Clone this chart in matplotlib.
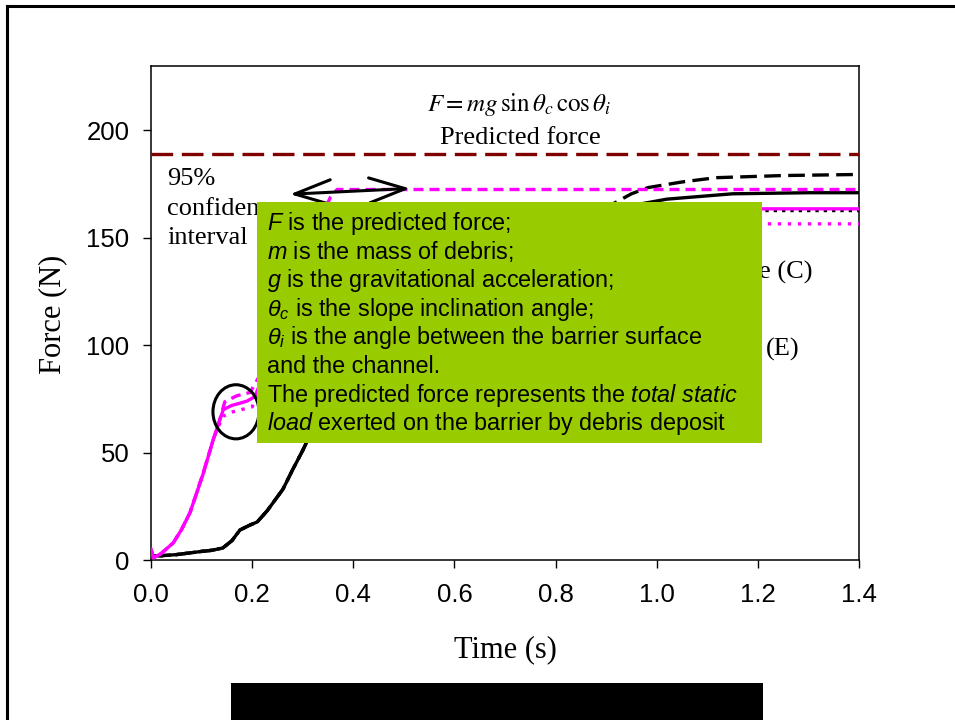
import matplotlib
matplotlib.use("Agg")
import matplotlib.pyplot as plt
from matplotlib.patches import Rectangle, Ellipse
from matplotlib.lines import Line2D

plt.rcParams['mathtext.fontset'] = 'custom'
plt.rcParams['mathtext.rm'] = 'Liberation Sans'
plt.rcParams['mathtext.it'] = 'Liberation Sans:italic'

SERIF = 'Liberation Serif'
SANS = 'Liberation Sans'

## Data (parts under the green box are estimated)
# magenta series
t_mag_solid = [0, 0.005, 0.02, 0.044, 0.06, 0.077, 0.09, 0.103, 0.113, 0.123, 0.133,
               0.143, 0.16, 0.176, 0.19, 0.205, 0.23, 0.26, 0.29, 0.32, 0.345, 0.36,
               0.38, 0.42, 0.6, 0.8, 1.0, 1.2, 1.4]
f_mag_solid = [5, 1, 3, 8, 14, 22, 31, 40, 48, 56, 63,
               70, 72, 73, 74, 76, 90, 115, 140, 155, 160, 162,
               163, 163.5, 163.5, 163.5, 163.5, 163.5, 163.5]

t_mag_dash = [0, 0.005, 0.02, 0.044, 0.06, 0.077, 0.09, 0.103, 0.113, 0.123, 0.133,
              0.146, 0.17, 0.196, 0.22, 0.25, 0.28, 0.31, 0.335, 0.345, 0.355, 0.368,
              0.45, 0.6, 0.8, 1.0, 1.2, 1.4]
f_mag_dash = [5, 1, 3, 8, 14, 22, 31, 40.5, 48, 56, 63,
              73.7, 76.5, 78, 88, 110, 135, 155, 162, 164, 169, 172.5,
              172.5, 172.5, 172.5, 172.5, 172.5, 172.5]

t_mag_dot = [0, 0.005, 0.02, 0.044, 0.06, 0.077, 0.09, 0.103, 0.113, 0.123, 0.133,
             0.143, 0.162, 0.2, 0.23, 0.26, 0.29, 0.32, 0.35, 0.4, 0.6, 0.8, 1.0, 1.2, 1.4]
f_mag_dot = [5, 1, 3, 8, 14, 22, 31, 40, 48, 56, 62,
             67, 69, 71.3, 85, 110, 135, 150, 155, 156.5, 156.5, 156.5, 156.5, 156.5, 156.5]

# black series (early rise is shared)
t_blk_rise = [0, 0.02, 0.05, 0.077, 0.1, 0.12, 0.142, 0.16, 0.176, 0.196, 0.21, 0.23,
              0.261, 0.28, 0.3, 0.308, 0.35, 0.4, 0.5, 0.6, 0.7, 0.8]
f_blk_rise = [2, 2, 2.5, 3.3, 4, 4.5, 5.6, 9, 14, 16.3, 17.7, 23,
              33, 42, 51, 55, 80, 105, 135, 150, 156, 159]

t_blk_solid = t_blk_rise + [0.9, 0.95, 1.02, 1.15, 1.3, 1.4]
f_blk_solid = f_blk_rise + [162, 165, 168, 170.5, 171, 171]

t_blk_dash = t_blk_rise + [0.9, 0.915, 0.95, 0.983, 1.05, 1.117, 1.25, 1.4]
f_blk_dash = f_blk_rise + [161, 166, 170.5, 173.4, 176, 178, 179, 179.5]

t_blk_dot = t_blk_rise + [0.9, 1.0, 1.2, 1.4]
f_blk_dot = f_blk_rise + [160, 162, 162.7, 162.7]

predicted_force = 189.0

xticks = [0.0, 0.2, 0.4, 0.6, 0.8, 1.0, 1.2, 1.4]
yticks = [0, 50, 100, 150, 200]

box_lines = [
    r"$\mathit{F}$ is the predicted force;",
    r"$\mathit{m}$ is the mass of debris;",
    r"$\mathit{g}$ is the gravitational acceleration;",
    r"$\theta_c$ is the slope inclination angle;",
    r"$\theta_i$ is the angle between the barrier surface",
    "and the channel.",
    r"The predicted force represents the $\mathit{total\ static}$",
    r"$\mathit{load}$ exerted on the barrier by debris deposit",
]

## Figure
W, H = 955, 720
fig = plt.figure(figsize=(W / 100, H / 100), dpi=100)
ax = fig.add_axes([151 / W, 1 - 560 / H, (859 - 151) / W, (560 - 66) / H])

ax.plot(t_blk_dash, f_blk_dash, color='black', lw=2.4, dashes=(5, 2.2), zorder=3)
ax.plot(t_blk_dot, f_blk_dot, color='black', lw=2.4, dashes=(1, 1.5), zorder=3)
ax.plot(t_blk_solid, f_blk_solid, color='black', lw=2.4, zorder=3)
ax.plot(t_mag_dot, f_mag_dot, color='#FF00FF', lw=2.4, dashes=(1, 2.0), zorder=3)
ax.plot(t_mag_dash, f_mag_dash, color='#FF00FF', lw=2.4, dashes=(3.0, 1.8), zorder=3)
ax.plot(t_mag_solid, f_mag_solid, color='#FF00FF', lw=2.4, zorder=3)

ax.axhline(predicted_force, color='#800000', lw=2.4, dashes=(6.5, 2.6), zorder=4)

ax.set_xlim(0, 1.4)
ax.set_ylim(0, 230)
ax.set_xticks(xticks)
ax.set_xticklabels(['%.1f' % v for v in xticks])
ax.set_yticks(yticks)
ax.tick_params(axis='both', direction='out', length=5.5, width=1, labelsize=18.5)
ax.tick_params(axis='x', pad=11)
ax.tick_params(axis='y', pad=10)
for lab in ax.get_xticklabels() + ax.get_yticklabels():
    lab.set_fontfamily(SANS)
for s in ax.spines.values():
    s.set_linewidth(1.1)

ax.set_xlabel('Time (s)', fontsize=22, family=SERIF, va='center')
ax.set_ylabel('Force (N)', fontsize=22, family=SERIF, va='center')
ax.xaxis.set_label_coords(0.5, -0.182)
ax.yaxis.set_label_coords(-0.1384, 0.497)

# annotations in data space
ax.text(0.7275, 209, r'$F = mg\,\sin\theta_c\,\cos\theta_i$', fontsize=18,
        ha='center', va='baseline', math_fontfamily='stix')
ax.text(0.73, 193.5, 'Predicted force', fontsize=19, family=SERIF,
        ha='center', va='baseline')
ax.text(0.0316, 174.8, '95%', fontsize=19, family=SERIF, va='baseline')
ax.text(0.0316, 160.8, 'confidence', fontsize=19, family=SERIF, va='baseline')
ax.text(0.0316, 146.9, 'interval', fontsize=19, family=SERIF, va='baseline')
ax.annotate('', xy=(0.512, 173.0), xytext=(0.275, 170.3),
            arrowprops=dict(arrowstyle='<->,head_length=1.3,head_width=0.45',
                            color='black', lw=2.2, mutation_scale=20,
                            shrinkA=0, shrinkB=0), zorder=5)
ax.add_patch(Ellipse((0.168, 69), 0.091, 25.2, fill=False, ec='black', lw=2.2,
                     zorder=5))

# partly hidden curve labels
fig.text(759 / W, 1 - 279 / H, 'e (C)', fontsize=19, family=SERIF, va='baseline')
fig.text(766 / W, 1 - 356 / H, '(E)', fontsize=19, family=SERIF, va='baseline')

# green note box over the plot
fig.add_artist(Rectangle((257 / W, 1 - 443 / H), (762 - 257) / W, (443 - 202) / H,
                         transform=fig.transFigure, fc='#99CC00', ec='none', zorder=5))
for i, line in enumerate(box_lines):
    base = 230 + i * 28.6
    fig.text(267 / W, 1 - base / H, line, fontsize=16.8, family=SANS,
             va='baseline', math_fontfamily='custom', zorder=6)

# black bar at the bottom and outer frame
fig.add_artist(Rectangle((231 / W, 0), (763 - 231) / W, (720 - 683) / H,
                         transform=fig.transFigure, fc='black', ec='none', zorder=5))
fig.add_artist(Line2D([7 / W, 1], [1 - 5.5 / H, 1 - 5.5 / H], transform=fig.transFigure,
                      color='black', lw=2.2, zorder=6))
fig.add_artist(Line2D([7 / W, 7 / W], [0, 1 - 5.5 / H], transform=fig.transFigure,
                      color='black', lw=2.2, zorder=6))

fig.savefig('out.png', dpi=100)
